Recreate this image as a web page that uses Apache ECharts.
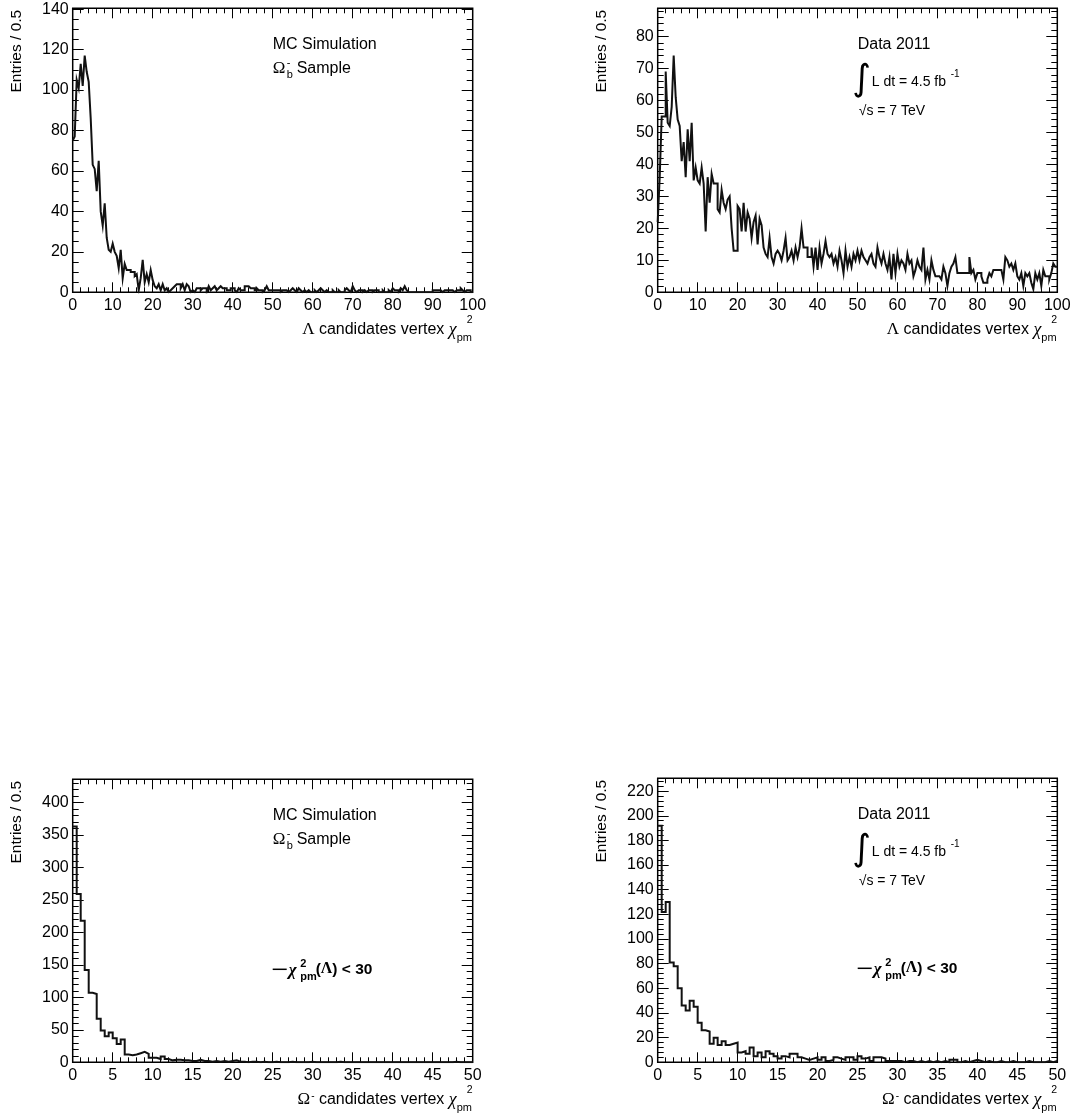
<!DOCTYPE html>
<html>
<head>
<meta charset="utf-8">
<script src="https://cdn.jsdelivr.net/npm/echarts@6/dist/echarts.min.js"></script>
<style>
  html, body { margin: 0; padding: 0; background: #fff; }
  #chart { width: 1078px; height: 1120px; }
</style>
</head>
<body>
<div id="chart"></div>
<script>
// Bin width of every histogram (entries / 0.5)
const BIN = 0.5;

// Lambda vertex chi2, MC Omega_b sample: 200 bins on [0, 100]
const lambdaMC = [
  75, 77, 105, 101, 113, 102, 117, 109, 104, 86,
  63, 61, 50, 65, 40, 33, 44, 27, 21, 20,
  24, 20, 18, 12, 21, 7, 14, 11, 11, 10,
  10, 8, 9, 1, 7, 16, 5, 9, 5, 11,
  6, 3, 2, 4, 1, 4, 1, 2, 0, 1,
  2, 3, 4, 4, 2, 4, 1, 4, 3, 0,
  1, 0, 2, 2, 1, 2, 2, 0, 3, 1,
  2, 3, 1, 2, 3, 2, 2, 1, 1, 2,
  2, 1, 0, 2, 1, 1, 3, 3, 3, 2,
  2, 1, 2, 1, 1, 0, 1, 3, 1, 1,
  1, 1, 1, 1, 0, 1, 1, 1, 0, 1,
  2, 1, 0, 2, 1, 0, 1, 0, 1, 0,
  0, 1, 0, 1, 2, 1, 0, 1, 0, 0,
  1, 0, 0, 1, 0, 0, 1, 2, 1, 0,
  3, 1, 0, 1, 1, 0, 1, 0, 1, 1,
  0, 1, 1, 0, 0, 1, 0, 0, 1, 0,
  2, 1, 1, 0, 2, 1, 3, 1, 0, 0,
  0, 0, 0, 0, 0, 0, 0, 0, 0, 0,
  1, 1, 1, 1, 1, 0, 1, 1, 1, 1,
  1, 0, 1, 1, 2, 1, 0, 1, 1, 0
];

// Lambda vertex chi2, 2011 data: 200 bins on [0, 100]
const lambdaData = [
  22, 36, 55, 55, 69, 53, 52, 58, 74, 61,
  54, 52, 41, 47, 36, 51, 41, 53, 35, 39,
  35, 34, 39, 34, 19, 36, 28, 37, 34, 34,
  26, 25, 32, 28, 26, 29, 30, 20, 13, 13,
  27, 26, 19, 28, 19, 25, 23, 17, 22, 24,
  15, 23, 21, 14, 12, 11, 17, 11, 9, 12,
  13, 12, 10, 13, 17, 10, 11, 13, 10, 14,
  11, 14, 20, 14, 14, 11, 11, 14, 8, 14,
  7, 14, 9, 12, 16, 12, 11, 12, 9, 11,
  8, 13, 10, 6, 13, 8, 11, 8, 12, 10,
  13, 10, 13, 11, 10, 9, 11, 12, 9, 8,
  14, 11, 9, 12, 9, 7, 11, 4, 12, 6,
  12, 8, 10, 9, 7, 12, 9, 10, 5, 7,
  10, 8, 7, 14, 4, 7, 4, 10, 7, 5,
  5, 5, 4, 8, 6, 2, 6, 8, 9, 11,
  6, 6, 6, 6, 6, 6, 11, 6, 7, 4,
  6, 6, 5, 3, 3, 4, 6, 5, 7, 7,
  7, 7, 7, 4, 11, 10, 8, 9, 7, 9,
  5, 4, 6, 2, 6, 5, 6, 3, 1, 6,
  4, 6, 2, 7, 5, 5, 4, 6, 9, 8
];

// Omega vertex chi2, MC Omega_b sample: 100 bins on [0, 50]
const omegaMC = [
  363, 259, 218, 142, 107, 105, 67, 49, 40, 46,
  37, 28, 35, 12, 11, 12, 14, 16, 13, 7,
  7, 5, 9, 5, 3, 4, 4, 3, 3, 2,
  2, 4, 2, 2, 1, 2, 1, 2, 1, 2,
  3, 1, 1, 0, 1, 1, 0, 1, 0, 0,
  1, 0, 0, 0, 1, 0, 0, 0, 0, 1,
  0, 0, 0, 0, 0, 0, 1, 0, 0, 0,
  0, 0, 0, 0, 0, 0, 0, 0, 0, 0,
  0, 0, 0, 0, 0, 0, 0, 0, 0, 0,
  0, 0, 0, 0, 0, 1, 0, 0, 0, 0
];

// Omega vertex chi2, 2011 data: 100 bins on [0, 50]
const omegaData = [
  192, 122, 130, 81, 78, 60, 46, 42, 50, 45,
  32, 26, 25, 15, 20, 14, 17, 14, 15, 16,
  8, 9, 7, 12, 5, 8, 4, 9, 7, 5,
  3, 5, 4, 7, 7, 4, 3, 2, 3, 4,
  2, 4, 1, 2, 4, 3, 2, 4, 4, 2,
  5, 3, 4, 1, 4, 4, 3, 1, 1, 1,
  1, 0, 1, 1, 0, 1, 0, 1, 0, 1,
  0, 1, 0, 2, 2, 0, 1, 0, 1, 2,
  1, 0, 1, 0, 0, 1, 0, 0, 1, 0,
  0, 0, 1, 0, 0, 0, 0, 1, 0, 1
];

// Axis ranges [min, max] and tick steps [major, minor]
const lambdaXRange = [0, 100], lambdaXSteps = [10, 2];
const omegaXRange = [0, 50], omegaXSteps = [5, 1];
const lambdaMCYRange = [0, 140.4], lambdaMCYSteps = [20, 5];
const lambdaDataYRange = [0, 88.8], lambdaDataYSteps = [10, 2];
const omegaMCYRange = [0, 435.6], omegaMCYSteps = [50, 10];
const omegaDataYRange = [0, 230.4], omegaDataYSteps = [20, 4];

const FONT = '"Liberation Sans", Arial, Helvetica, sans-serif';
const SERIF = '"Liberation Serif", "DejaVu Serif", serif';

const panels = [
  { rect: { left: 72.7, top: 8.3, width: 400, height: 284 }, values: lambdaMC,
    xr: lambdaXRange, xs: lambdaXSteps, yr: lambdaMCYRange, ys: lambdaMCYSteps },
  { rect: { left: 657.7, top: 8.3, width: 399.6, height: 284 }, values: lambdaData,
    xr: lambdaXRange, xs: lambdaXSteps, yr: lambdaDataYRange, ys: lambdaDataYSteps },
  { rect: { left: 72.7, top: 779.3, width: 400, height: 283 }, values: omegaMC,
    xr: omegaXRange, xs: omegaXSteps, yr: omegaMCYRange, ys: omegaMCYSteps },
  { rect: { left: 657.7, top: 778.3, width: 399.6, height: 284 }, values: omegaData,
    xr: omegaXRange, xs: omegaXSteps, yr: omegaDataYRange, ys: omegaDataYSteps }
];

function onStep(v, step) {
  const r = v / step;
  return Math.abs(r - Math.round(r)) < 1e-6;
}

// Histogram outline: each bin's left edge carries its content, step 'end' draws the flat top
function stepPoints(values) {
  const pts = values.map((v, i) => [i * BIN, v]);
  pts.push([values.length * BIN, values[values.length - 1]]);
  return pts;
}

const grids = [], xAxes = [], yAxes = [], series = [];

function makeAxis(gridIndex, range, step, position, isX, major, labels) {
  const tickLen = major ? (isX ? 10 : 11) : (isX ? 5 : 6);
  return {
    type: 'value', gridIndex, position,
    min: range[0], max: range[1], interval: step,
    axisLine: { show: false, onZero: false },
    axisTick: { show: true, inside: true, length: tickLen, lineStyle: { color: '#000', width: 1 } },
    splitLine: { show: false },
    axisLabel: labels ? {
      show: true, color: '#000', fontFamily: FONT, fontSize: 16, margin: isX ? 5 : 4,
      formatter: v => (onStep(v, step) ? String(v) : '')
    } : { show: false }
  };
}

panels.forEach(p => {
  // frame grid with major ticks
  const gMajor = grids.length;
  grids.push(Object.assign({ show: true, borderColor: '#000', borderWidth: 1.5, backgroundColor: 'transparent' }, p.rect));
  xAxes.push(makeAxis(gMajor, p.xr, p.xs[0], 'bottom', true, true, true));
  xAxes.push(makeAxis(gMajor, p.xr, p.xs[0], 'top', true, true, false));
  yAxes.push(makeAxis(gMajor, p.yr, p.ys[0], 'left', false, true, true));
  yAxes.push(makeAxis(gMajor, p.yr, p.ys[0], 'right', false, true, false));
  // overlaid grid carrying the minor ticks
  const gMinor = grids.length;
  grids.push(Object.assign({ show: false }, p.rect));
  xAxes.push(makeAxis(gMinor, p.xr, p.xs[1], 'bottom', true, false, false));
  xAxes.push(makeAxis(gMinor, p.xr, p.xs[1], 'top', true, false, false));
  yAxes.push(makeAxis(gMinor, p.yr, p.ys[1], 'left', false, false, false));
  yAxes.push(makeAxis(gMinor, p.yr, p.ys[1], 'right', false, false, false));

  series.push({
    type: 'line', step: 'end', symbol: 'none',
    xAxisIndex: xAxes.length - 4, yAxisIndex: yAxes.length - 4,
    data: stepPoints(p.values),
    lineStyle: { color: '#111', width: 2, join: 'miter', cap: 'butt' },
    clip: true, silent: true, z: 3
  });
});

// ---------- text annotations ----------
const graphic = [];
function txt(x, y, text, o) {
  graphic.push({
    type: 'text', x, y, silent: true, z: 10,
    style: Object.assign({ text, fill: '#000', fontFamily: FONT, fontSize: 16,
      align: 'left', verticalAlign: 'middle' }, o || {})
  });
}

panels.forEach((p, k) => {
  const L = p.rect.left, T = p.rect.top;
  const R = L + p.rect.width, B = T + p.rect.height;
  const isLambda = k < 2, isMC = k % 2 === 0;

  // y title
  graphic.push({
    type: 'text', x: L - 55.5, y: T + 1.5, rotation: Math.PI / 2, silent: true,
    style: { text: 'Entries / 0.5', fill: '#000', fontFamily: FONT, fontSize: 15.5,
      align: 'right', verticalAlign: 'middle' }
  });

  // x title
  const lead = isLambda ? '{g|Λ}' : '{g|Ω}{u|-}';
  txt(R - 16, B + 37.5, lead + ' candidates vertex {c|χ}', {
    align: 'right',
    rich: {
      g: { fontFamily: SERIF, fontSize: 17 },
      u: { fontFamily: FONT, fontSize: 10, verticalAlign: 'top', padding: [0, 0, 8, 1] },
      c: { fontFamily: SERIF, fontSize: 18, fontStyle: 'italic' }
    }
  });
  txt(R - 6, B + 28, '2', { fontSize: 10.5 });
  txt(R - 16, B + 46, 'pm', { fontSize: 11 });

  if (isMC) {
    txt(L + 200, T + 36.7, 'MC Simulation');
    txt(L + 200, T + 60, 'Ω', { fontFamily: SERIF, fontSize: 17 });
    txt(L + 214, T + 55, '-', { fontSize: 11 });
    txt(L + 214, T + 67, 'b', { fontSize: 11 });
    txt(L + 224, T + 60, 'Sample');
  } else {
    txt(L + 200, T + 36.7, 'Data 2011');
    txt(L + 204, T + 72, '∫', { fontFamily: '"DejaVu Sans", sans-serif', fontSize: 36, align: 'center' });
    txt(L + 214, T + 74, 'L dt = 4.5 fb', { fontSize: 14 });
    txt(L + 293, T + 66, '-1', { fontSize: 10 });
    txt(L + 201, T + 103, '√s = 7 TeV', { fontSize: 14 });
  }

  if (!isLambda) {
    // cut legend: short line sample followed by the condition
    graphic.push({
      type: 'line', silent: true, z: 10,
      shape: { x1: L + 200, y1: T + 190, x2: L + 214, y2: T + 190 },
      style: { stroke: '#000', lineWidth: 1.5 }
    });
    txt(L + 216, T + 191, 'χ', { fontFamily: SERIF, fontSize: 17, fontWeight: 'bold', fontStyle: 'italic' });
    txt(L + 227.5, T + 185, '2', { fontSize: 11, fontWeight: 'bold' });
    txt(L + 227.5, T + 198, 'pm', { fontSize: 11, fontWeight: 'bold' });
    txt(L + 243, T + 190, '({g|Λ}) < 30', {
      fontWeight: 'bold', fontSize: 15.5,
      rich: { g: { fontFamily: SERIF, fontSize: 16, fontWeight: 'bold' } }
    });
  }
});

const chart = echarts.init(document.getElementById('chart'), null, { renderer: 'canvas' });
chart.setOption({
  animation: false,
  backgroundColor: '#fff',
  grid: grids,
  xAxis: xAxes,
  yAxis: yAxes,
  series,
  graphic
});
</script>
</body>
</html>
